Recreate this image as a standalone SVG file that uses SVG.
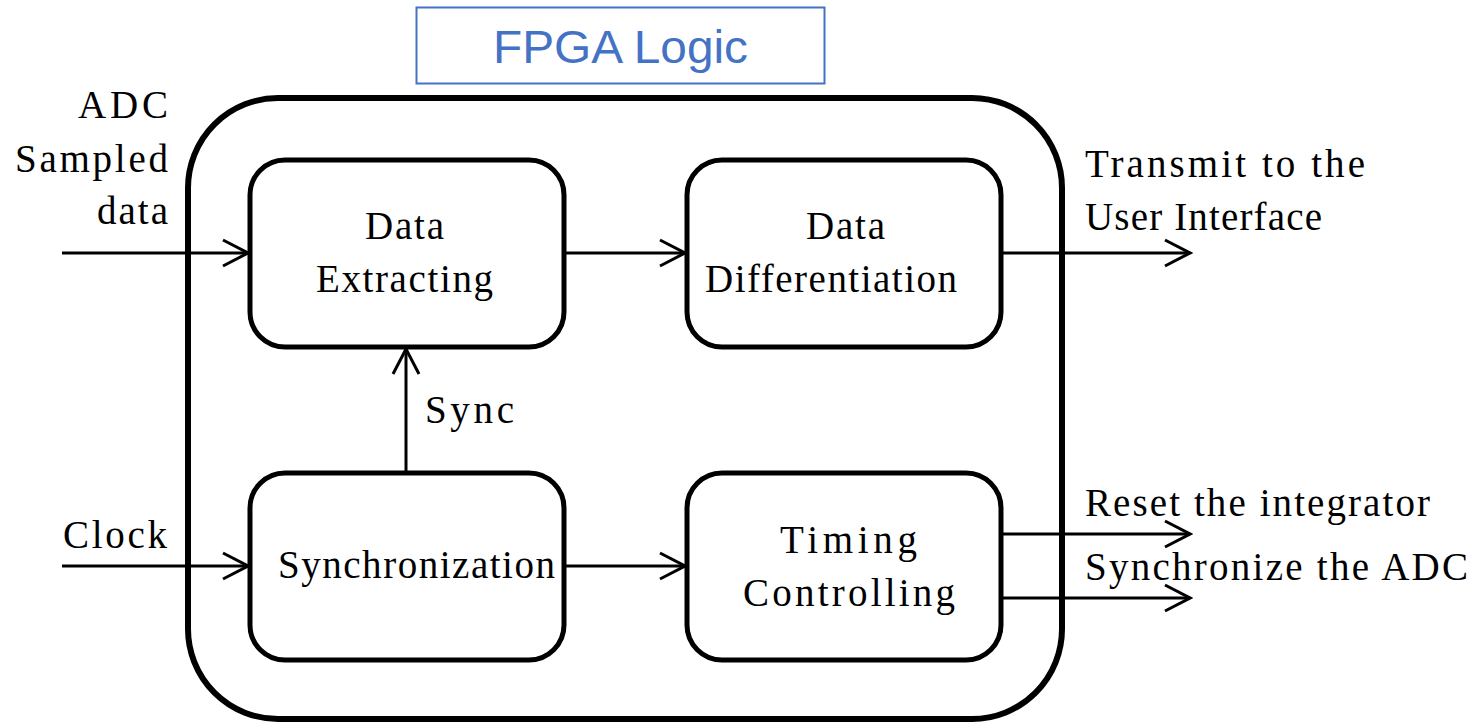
<svg xmlns="http://www.w3.org/2000/svg" width="1473" height="725" viewBox="0 0 1473 725">
<style>
.node{fill:#fff;stroke:#000;stroke-width:5}
.t{font-family:"Liberation Serif","Times New Roman",serif;font-size:39px;fill:#000}
.ln{stroke:#000;stroke-width:3;fill:none}
</style>
<defs>
<marker id="ah" viewBox="0 0 30 30" refX="27" refY="15" markerWidth="30" markerHeight="30" markerUnits="userSpaceOnUse" orient="auto">
<path d="M2,2 L27,15 L2,28" fill="none" stroke="#000" stroke-width="3"/>
</marker>
</defs>
<rect x="0" y="0" width="1473" height="725" fill="#fff"/>
<g id="fpga">
<rect x="188" y="98" width="874" height="621" rx="90" ry="90" fill="none" stroke="#000" stroke-width="6"/>
</g>
<g id="title">
<rect x="416.5" y="7.5" width="408" height="76" fill="#fff" stroke="#4472C4" stroke-width="2"/>
<text x="493" y="63" font-family="Liberation Sans, Arial, sans-serif" font-size="46" fill="#4472C4" textLength="255" lengthAdjust="spacingAndGlyphs">FPGA Logic</text>
</g>
<g id="extract">
<rect class="node" x="250" y="160" width="314" height="187" rx="35"/>
<text class="t" x="365" y="239" textLength="79">Data</text>
<text class="t" x="316" y="292" textLength="177">Extracting</text>
</g>
<g id="diff">
<rect class="node" x="687" y="160" width="314" height="187" rx="35"/>
<text class="t" x="806" y="239" textLength="79">Data</text>
<text class="t" x="705" y="292" textLength="252">Differentiation</text>
</g>
<g id="sync">
<rect class="node" x="250" y="473" width="314" height="187" rx="35"/>
<text class="t" x="278" y="578" font-size="34" textLength="277">Synchronization</text>
</g>
<g id="timing">
<rect class="node" x="687" y="473" width="314" height="187" rx="35"/>
<text class="t" x="780" y="553" textLength="137">Timing</text>
<text class="t" x="743" y="606" textLength="212">Controlling</text>
</g>
<g id="connectors">
<line class="ln" x1="62" y1="253" x2="248" y2="253" marker-end="url(#ah)"/>
<line class="ln" x1="564" y1="253" x2="685" y2="253" marker-end="url(#ah)"/>
<line class="ln" x1="1001" y1="253" x2="1190" y2="253" marker-end="url(#ah)"/>
<line class="ln" x1="406" y1="472" x2="406" y2="349" marker-end="url(#ah)"/>
<line class="ln" x1="62" y1="566" x2="248" y2="566" marker-end="url(#ah)"/>
<line class="ln" x1="564" y1="566" x2="685" y2="566" marker-end="url(#ah)"/>
<line class="ln" x1="1001" y1="534" x2="1190" y2="534" marker-end="url(#ah)"/>
<line class="ln" x1="1001" y1="598" x2="1190" y2="598" marker-end="url(#ah)"/>
</g>
<g id="labels">
<text class="t" x="78" y="118" textLength="90">ADC</text>
<text class="t" x="15" y="172" textLength="153">Sampled</text>
<text class="t" x="97" y="224" textLength="71">data</text>
<text class="t" x="1085" y="177" font-size="40" textLength="280">Transmit to the</text>
<text class="t" x="1085" y="230" font-size="40" textLength="237">User Interface</text>
<text class="t" x="425" y="423" textLength="89">Sync</text>
<text class="t" x="63" y="548" textLength="104">Clock</text>
<text class="t" x="1085" y="516" textLength="345">Reset the integrator</text>
<text class="t" x="1085" y="580" textLength="383">Synchronize the ADC</text>
</g>
</svg>
